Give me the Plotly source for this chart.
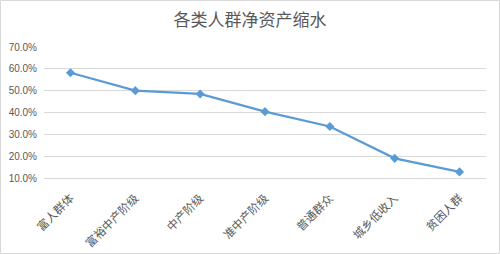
import plotly.graph_objects as go

categories = ["富人群体", "富裕中产阶级", "中产阶级", "准中产阶级", "普通群众", "城乡低收入", "贫困人群"]
values = [0.582, 0.500, 0.485, 0.404, 0.336, 0.190, 0.128]
title_text = "各类人群净资产缩水"

W, H = 500, 254
ml, mr, mt, mb = 44, 14, 47, 76
pw, ph = W - ml - mr, H - mt - mb

fig = go.Figure()
fig.add_trace(go.Scatter(
    x=categories, y=values, mode="lines+markers",
    line=dict(color="#5b9bd5", width=2.2),
    marker=dict(symbol="diamond", size=7, color="#5b9bd5"),
    hoverinfo="skip", showlegend=False,
))

fig.update_layout(
    width=W, height=H,
    margin=dict(l=ml, r=mr, t=mt, b=mb, autoexpand=False),
    paper_bgcolor="white", plot_bgcolor="white",
    font=dict(family="Noto Sans CJK SC, Liberation Sans, sans-serif", color="#595959"),
    title=dict(text=title_text, x=0.5, xanchor="center", y=1 - 20 / H, yanchor="middle",
               font=dict(size=17, color="#595959", family="Noto Sans CJK SC")),
    xaxis=dict(
        type="category", showgrid=False, showline=True, linecolor="#d9d9d9", linewidth=1,
        ticks="", tickangle=-45, ticklabelstandoff=8, automargin=False,
        tickfont=dict(size=11.5, color="#595959", family="Noto Sans CJK SC"),
        fixedrange=True,
    ),
    yaxis=dict(
        range=[0.1, 0.7], dtick=0.1, tick0=0.1, tickformat=".1%",
        showgrid=True, gridcolor="#d9d9d9", gridwidth=1, zeroline=False, showline=False,
        ticks="", ticklabelstandoff=6, automargin=False,
        tickfont=dict(size=10, color="#595959", family="Liberation Sans"),
        fixedrange=True,
    ),
    shapes=[dict(
        type="rect", xref="paper", yref="paper",
        x0=-(ml - 0.5) / pw, x1=1 + (mr - 0.5) / pw,
        y0=-(mb - 0.5) / ph, y1=1 + (mt - 0.5) / ph,
        line=dict(color="#d9d9d9", width=1), layer="below",
    )],
)

fig.write_html("out.html", config={"displayModeBar": False})
